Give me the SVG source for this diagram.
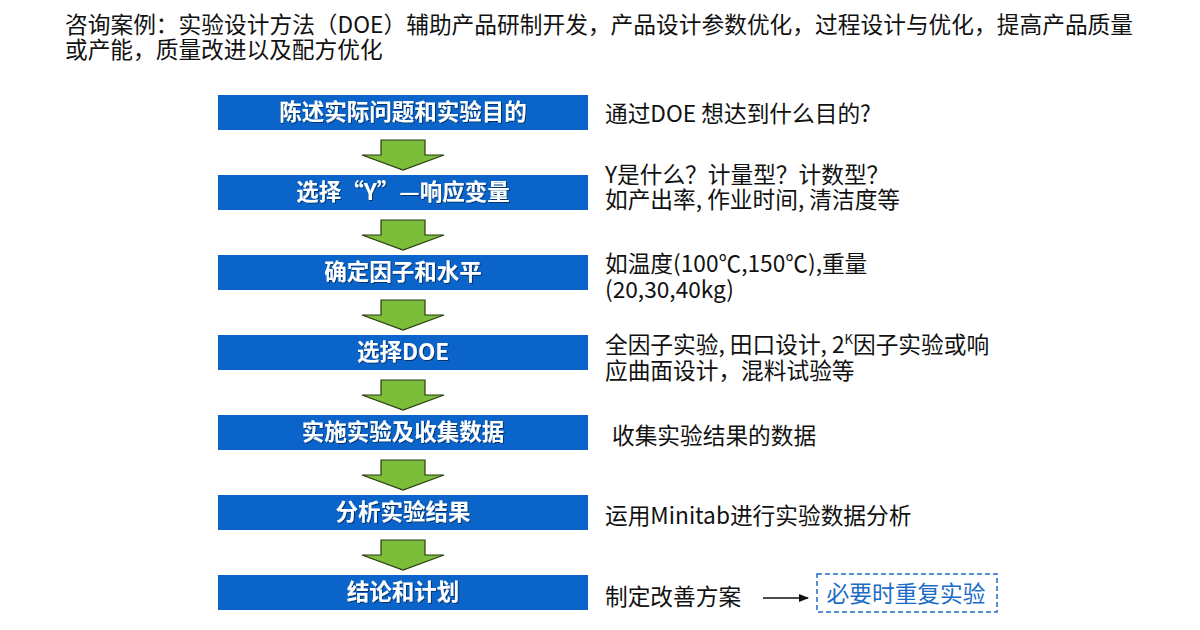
<svg xmlns="http://www.w3.org/2000/svg" width="1200" height="630" viewBox="0 0 1200 630">
<style>
.t{font-family:"Noto Sans CJK SC","Noto Sans",sans-serif;fill:#111;font-size:22.7px}
.h{font-family:"Noto Sans CJK SC","Noto Sans",sans-serif;fill:#fff;font-size:22.5px;font-weight:bold;text-anchor:middle;filter:url(#sh)}
.box{fill:#0a64c9}
.ar{fill:#7cbd3a;stroke:#2b3a10;stroke-width:1.2}
</style>
<defs>
<filter id="sh" x="-10%" y="-30%" width="120%" height="160%"><feDropShadow dx="1" dy="1" stdDeviation="0.6" flood-color="#000" flood-opacity="0.5"/></filter>
<marker id="m" markerWidth="10" markerHeight="8" refX="9" refY="4" orient="auto" markerUnits="userSpaceOnUse"><path d="M0,0 L10,4 L0,8 Z" fill="#111"/></marker>
<path id="ga" d="M-22,0 H22 V15 H41 L0,30 L-41,15 H-22 Z"/>
</defs>
<text class="t" x="65" y="33" textLength="1068" lengthAdjust="spacing">咨询案例：实验设计方法（DOE）辅助产品研制开发，产品设计参数优化，过程设计与优化，提高产品质量</text>
<text class="t" x="65" y="58">或产能，质量改进以及配方优化</text>

<g id="n1"><rect class="box" x="218" y="95" width="370" height="35"/><text class="h" x="403" y="120">陈述实际问题和实验目的</text></g>
<g id="n2"><rect class="box" x="218" y="175" width="370" height="35"/><text class="h" x="403" y="200">选择“Y”—响应变量</text></g>
<g id="n3"><rect class="box" x="218" y="255" width="370" height="35"/><text class="h" x="403" y="280">确定因子和水平</text></g>
<g id="n4"><rect class="box" x="218" y="335" width="370" height="35"/><text class="h" x="403" y="360">选择DOE</text></g>
<g id="n5"><rect class="box" x="218" y="415" width="370" height="35"/><text class="h" x="403" y="440">实施实验及收集数据</text></g>
<g id="n6"><rect class="box" x="218" y="495" width="370" height="35"/><text class="h" x="403" y="520">分析实验结果</text></g>
<g id="n7"><rect class="box" x="218" y="575" width="370" height="35"/><text class="h" x="403" y="600">结论和计划</text></g>

<g id="connectors">
<use href="#ga" class="ar" transform="translate(403,140)"/>
<use href="#ga" class="ar" transform="translate(403,220)"/>
<use href="#ga" class="ar" transform="translate(403,300)"/>
<use href="#ga" class="ar" transform="translate(403,380)"/>
<use href="#ga" class="ar" transform="translate(403,460)"/>
<use href="#ga" class="ar" transform="translate(403,540)"/>
<line x1="763" y1="598" x2="808" y2="598" stroke="#111" stroke-width="1.5" marker-end="url(#m)"/>
</g>

<g id="notes">
<text class="t" x="605" y="122">通过DOE 想达到什么目的?</text>
<text class="t" x="605" y="183">Y是什么？计量型？计数型？</text>
<text class="t" x="605" y="208">如产出率, 作业时间, 清洁度等</text>
<text class="t" x="605" y="272">如温度(100℃,150℃),重量</text>
<text class="t" x="605" y="298">(20,30,40kg)</text>
<text class="t" x="605" y="353">全因子实验, 田口设计, 2<tspan font-size="13" dy="-9">K</tspan><tspan dy="9">因子实验或响</tspan></text>
<text class="t" x="605" y="379">应曲面设计，混料试验等</text>
<text class="t" x="612" y="444">收集实验结果的数据</text>
<text class="t" x="605" y="524">运用Minitab进行实验数据分析</text>
<text class="t" x="605" y="605">制定改善方案</text>
</g>
<g id="n8">
<rect x="817" y="574" width="180" height="38" fill="none" stroke="#1c6cc6" stroke-width="1.5" stroke-dasharray="5,3"/>
<text class="t" x="906" y="602" text-anchor="middle" style="fill:#1c6cc6">必要时重复实验</text>
</g>
</svg>
